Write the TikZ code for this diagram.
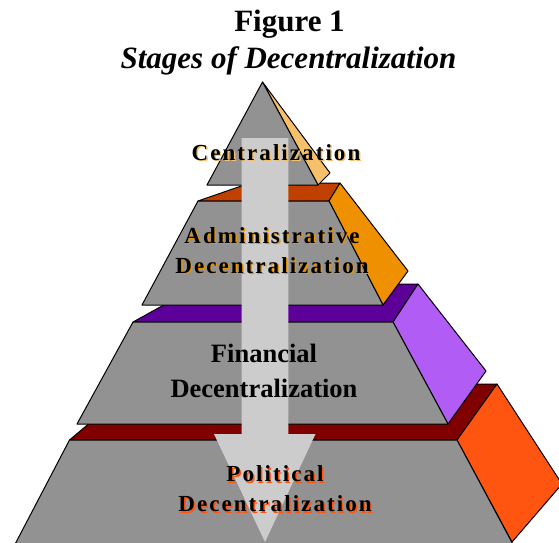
\documentclass[tikz,border=0pt]{standalone}
\usepackage{fontspec}
\setmainfont{Liberation Serif}
\newfontfamily\spacedfont[LetterSpace=9]{Liberation Serif}
\usepackage{tikz}
\usetikzlibrary{positioning}
\usetikzlibrary{calc}
\definecolor{frontgray}{RGB}{146,146,146}
\definecolor{arrowgray}{RGB}{204,204,204}
\definecolor{sandside}{RGB}{246,192,106}
\definecolor{rusttop}{RGB}{192,64,0}
\definecolor{orangeside}{RGB}{238,144,0}
\definecolor{purpletop}{RGB}{92,0,153}
\definecolor{lilacside}{RGB}{176,92,245}
\definecolor{maroontop}{RGB}{128,0,0}
\definecolor{redside}{RGB}{255,85,17}
\tikzset{face/.style={draw=black,line width=1pt,line join=round}}

\begin{document}
\begin{tikzpicture}[x=1pt,y=-1pt,
front/.style={face,fill=frontgray},
tierlabel/.style={font=\spacedfont\bfseries\fontsize{23}{30}\selectfont, align=center, anchor=base, inner sep=0pt},
titletext/.style={font=\bfseries\fontsize{31}{36}\selectfont, anchor=base, inner sep=0pt}]

\clip (0,0) rectangle (559,542);

% political tier
\draw[face,fill=maroontop] (69.5,440) -- (136,384) -- (497,384) -- (457,440) -- cycle;
\draw[face,fill=redside] (457,440) -- (497,384) -- (562,484) -- (512,542) -- cycle;
\draw[front] (69.5,440) -- (457,440) -- (516,550) -- (12,550) -- cycle;

% financial tier
\draw[face,fill=purpletop] (133,322) -- (200,285) -- (418,284) -- (393,322) -- cycle;
\draw[face,fill=lilacside] (393,322) -- (418,284) -- (486,371) -- (448,424) -- cycle;
\draw[front] (133,322) -- (393,322) -- (448,424) -- (77,424) -- cycle;

% administrative tier
\draw[face,fill=rusttop] (198,201) -- (250,183) -- (340,183) -- (329,201) -- cycle;
\draw[face,fill=orangeside] (329,201) -- (340,183) -- (408,271) -- (383,305) -- cycle;
\draw[front] (198,201) -- (329,201) -- (383,305) -- (142,305) -- cycle;

% top
\draw[face,fill=sandside] (262.5,82) -- (330,173) -- (318,185) -- cycle;
\draw[front] (262.5,82) -- (318,185) -- (207,185) -- cycle;

% big arrow
\fill[arrowgray] (241.7,138) -- (288.3,138) -- (288.3,434) -- (315.5,434)
  -- (265,542) -- (214,434) -- (241.7,434) -- cycle;

\node[titletext] (title) at (289.5,31.7) {Figure 1};
\node[titletext,font=\bfseries\itshape\fontsize{31}{36}\selectfont] (subtitle) at (288.5,68.3) {Stages of Decentralization};

% base anchor sits on the last line
\foreach \n/\x/\y/\c/\t in {cent/276/160/sandside/{Centralization},
  admin/272/273.3/orangeside/{Administrative\\Decentralization},
  pol/275/511.7/redside/{Political\\Decentralization}}
{
\node[tierlabel,text=\c] (\n-shadow) at (\x+1.5,\y+1.5) {\t};
\node[tierlabel] (\n) at (\x,\y) {\t};
}

\node[font=\bfseries\fontsize{26.5}{34.6}\selectfont, align=center, anchor=base, inner sep=0pt] (fin) at (264,397.3) {Financial\\Decentralization};

\end{tikzpicture}
\end{document}
